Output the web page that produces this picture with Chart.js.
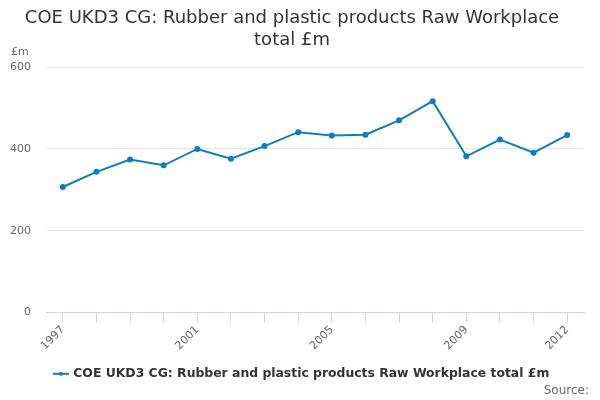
<!DOCTYPE html>
<html>
<head>
<meta charset="utf-8">
<script src="https://cdn.jsdelivr.net/npm/chart.js@4/dist/chart.umd.min.js"></script>
<style>
html,body{margin:0;padding:0;background:#fff;}
#wrap{width:600px;height:400px;position:relative;}
</style>
</head>
<body>
<div id="wrap"><canvas id="c"></canvas></div>
<script>
const years = ['1997','1998','1999','2000','2001','2002','2003','2004','2005','2006','2007','2008','2009','2010','2011','2012'];
const values = [307, 344, 374, 360, 400, 376, 407, 441, 433, 435, 470, 517, 382, 423, 391, 434];
const shownYears = ['1997','2001','2005','2009','2012'];
const yTicks = [0, 200, 400, 600];
const seriesName = 'COE UKD3 CG: Rubber and plastic products Raw Workplace total £m';
const titleLines = ['COE UKD3 CG: Rubber and plastic products Raw Workplace', 'total £m'];
const color = '#0b7dc3';
const FONT = '"DejaVu Sans", sans-serif';

// legend symbol: line with a dot
const sym = document.createElement('canvas');
sym.width = 16; sym.height = 8;
(function(){
  const g = sym.getContext('2d');
  g.strokeStyle = color; g.lineWidth = 2;
  g.beginPath(); g.moveTo(0,4); g.lineTo(16,4); g.stroke();
  g.fillStyle = color; g.beginPath(); g.arc(8,4,2,0,Math.PI*2); g.fill();
})();

const extras = {
  id: 'extras',
  afterLayout(chart) {
    if (chart.legend) { chart.legend.left += 10; chart.legend.right += 10; }
  },
  afterDraw(chart) {
    const ctx = chart.ctx;
    ctx.save();
    ctx.font = '11px ' + FONT;
    ctx.fillStyle = '#666666';
    ctx.textAlign = 'left';
    ctx.textBaseline = 'middle';
    ctx.fillText('£m', 11, 52);
    ctx.font = '12px ' + FONT;
    ctx.textAlign = 'right';
    ctx.fillText('Source:', 589, 391);
    ctx.restore();
  }
};

new Chart(document.getElementById('c'), {
  type: 'line',
  data: {
    labels: years,
    datasets: [{
      label: seriesName,
      data: values,
      borderColor: color,
      backgroundColor: color,
      borderWidth: 2,
      pointRadius: 2,
      pointHoverRadius: 3,
      tension: 0,
      fill: false
    }]
  },
  options: {
    responsive: true,
    maintainAspectRatio: false,
    animation: false,
    layout: { padding: { left: 0, right: 16, top: 0, bottom: 10 } },
    plugins: {
      title: {
        display: true,
        text: titleLines,
        color: '#333333',
        font: { family: FONT, size: 18, weight: 'normal' },
        padding: { top: 8, bottom: 16 },
        lineHeight: 1.15
      },
      legend: {
        display: true,
        position: 'bottom',
        labels: {
          color: '#333333',
          font: { family: FONT, size: 12.4, weight: 'bold' },
          usePointStyle: true,
          boxWidth: 16,
          boxHeight: 8,
          padding: 14,
          generateLabels(chart) {
            const items = Chart.defaults.plugins.legend.labels.generateLabels(chart);
            items.forEach(i => { i.pointStyle = sym; });
            return items;
          }
        }
      },
      tooltip: { enabled: false }
    },
    scales: {
      x: {
        offset: true,
        grid: { drawOnChartArea: false, drawTicks: true, tickLength: 10, color: '#ccd6eb' },
        border: { color: '#ccd6eb' },
        ticks: {
          color: '#666666',
          font: { family: FONT, size: 11 },
          autoSkip: false,
          minRotation: 45,
          maxRotation: 45,
          padding: 1,
          callback(v, i) { const l = years[i]; return shownYears.includes(l) ? l : ''; }
        }
      },
      y: {
        min: 0, max: 600,
        afterBuildTicks(axis) { axis.ticks = yTicks.map(v => ({ value: v })); },
        afterFit(axis) { axis.width = 46; },
        grid: { color: '#e6e6e6', drawTicks: false },
        border: { display: false },
        ticks: {
          color: '#666666',
          font: { family: FONT, size: 11 },
          padding: 15
        }
      }
    }
  },
  plugins: [extras]
});
</script>
</body>
</html>
